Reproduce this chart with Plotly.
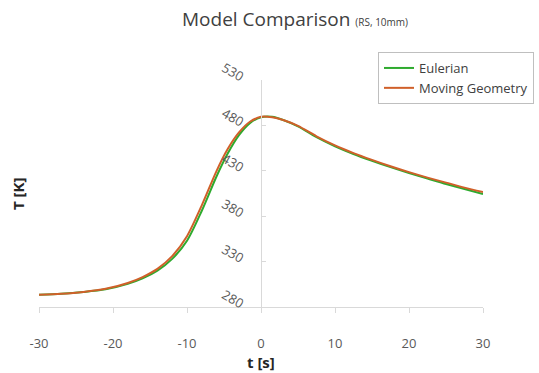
import plotly.graph_objects as go

t_s = [-30, -27, -24, -21, -18, -16, -14, -12, -10, -8, -6, -4.5, -3, -1.5, 0, 1.5, 3, 5, 7.5, 10, 12.5, 15, 17.5, 20, 22.5, 25, 27.5, 30]
eulerian = [293.5, 294.5, 296.5, 299.5, 305.5, 311.5, 320, 333, 353, 386, 424, 449, 469, 482.5, 489, 489.5, 486, 479, 467, 457, 448.5, 441, 434, 427.5, 421.5, 415.5, 410, 404.5]
moving_geometry = [293.5, 294.5, 296.5, 300, 306.5, 313, 322, 336, 358, 392, 430, 454, 472, 484, 489.5, 489, 486, 479.5, 468, 458, 449.5, 442, 435, 428.5, 422.5, 417, 411.5, 406.5]

x_ticks = [-30, -20, -10, 0, 10, 20, 30]
x_tick_labels = ["-30", "-20", "-10", "0", "10", "20", "30"]
y_ticks = [280, 330, 380, 430, 480, 530]

FONT = "Open Sans"
fig = go.Figure()
fig.add_trace(go.Scatter(x=t_s, y=eulerian, mode="lines", name="Eulerian",
                         line=dict(color="#2eaa2e", width=2, shape="spline", smoothing=0.8)))
fig.add_trace(go.Scatter(x=t_s, y=moving_geometry, mode="lines", name="Moving Geometry",
                         line=dict(color="#d0602a", width=2, shape="spline", smoothing=0.8)))

fig.update_layout(
    width=539, height=373,
    margin=dict(l=39, r=56, t=80, b=66, autoexpand=False),
    paper_bgcolor="white", plot_bgcolor="white",
    font=dict(family=FONT, color="#595959", size=13),
    title=dict(
        text="Model Comparison <span style='font-size:10px'>(RS, 10mm)</span>",
        x=(182 - 39) / 444, xref="paper", xanchor="left",
        y=1 - 19 / 373, yref="container", yanchor="middle",
        font=dict(family=FONT, size=19, color="#404040"),
    ),
    xaxis=dict(range=[-30, 30], tickvals=x_ticks, ticktext=x_tick_labels,
               showgrid=False, zeroline=False,
               showline=True, linecolor="#d9d9d9", linewidth=1,
               ticks="outside", ticklen=5, tickcolor="#d9d9d9",
               ticklabelstandoff=19,
               tickfont=dict(size=13, color="#595959")),
    yaxis=dict(range=[280, 530], tickvals=y_ticks, showgrid=False, zeroline=False,
               anchor="free", position=0.5, side="left",
               showline=True, linecolor="#d9d9d9", linewidth=1,
               ticks="inside", ticklen=4, tickcolor="#d9d9d9",
               tickangle=30, ticklabelstandoff=15, ticklabelshift=-2,
               tickfont=dict(size=13, color="#595959")),
    legend=dict(x=(378 - 39) / 444, y=(307 - 52) / 227, xanchor="left", yanchor="top",
                bordercolor="#bfbfbf", borderwidth=1, bgcolor="white",
                font=dict(family=FONT, size=13, color="#404040")),
    showlegend=True,
)

fig.add_annotation(text="<b>T [K]</b>", x=(18 - 39) / 444, xref="paper", xanchor="center",
                   y=(307 - 194) / 227, yref="paper", yanchor="middle",
                   showarrow=False, textangle=-90,
                   font=dict(size=15, color="#262626"))
fig.add_annotation(text="<b>t [s]</b>", x=0.5, xref="paper", y=-(362 - 307) / 227, yref="paper",
                   showarrow=False, font=dict(size=15, color="#262626"), yanchor="middle")

fig.write_html("out.html", config={"displayModeBar": False},
               post_script="document.body.style.margin='0';document.body.style.padding='0';")
